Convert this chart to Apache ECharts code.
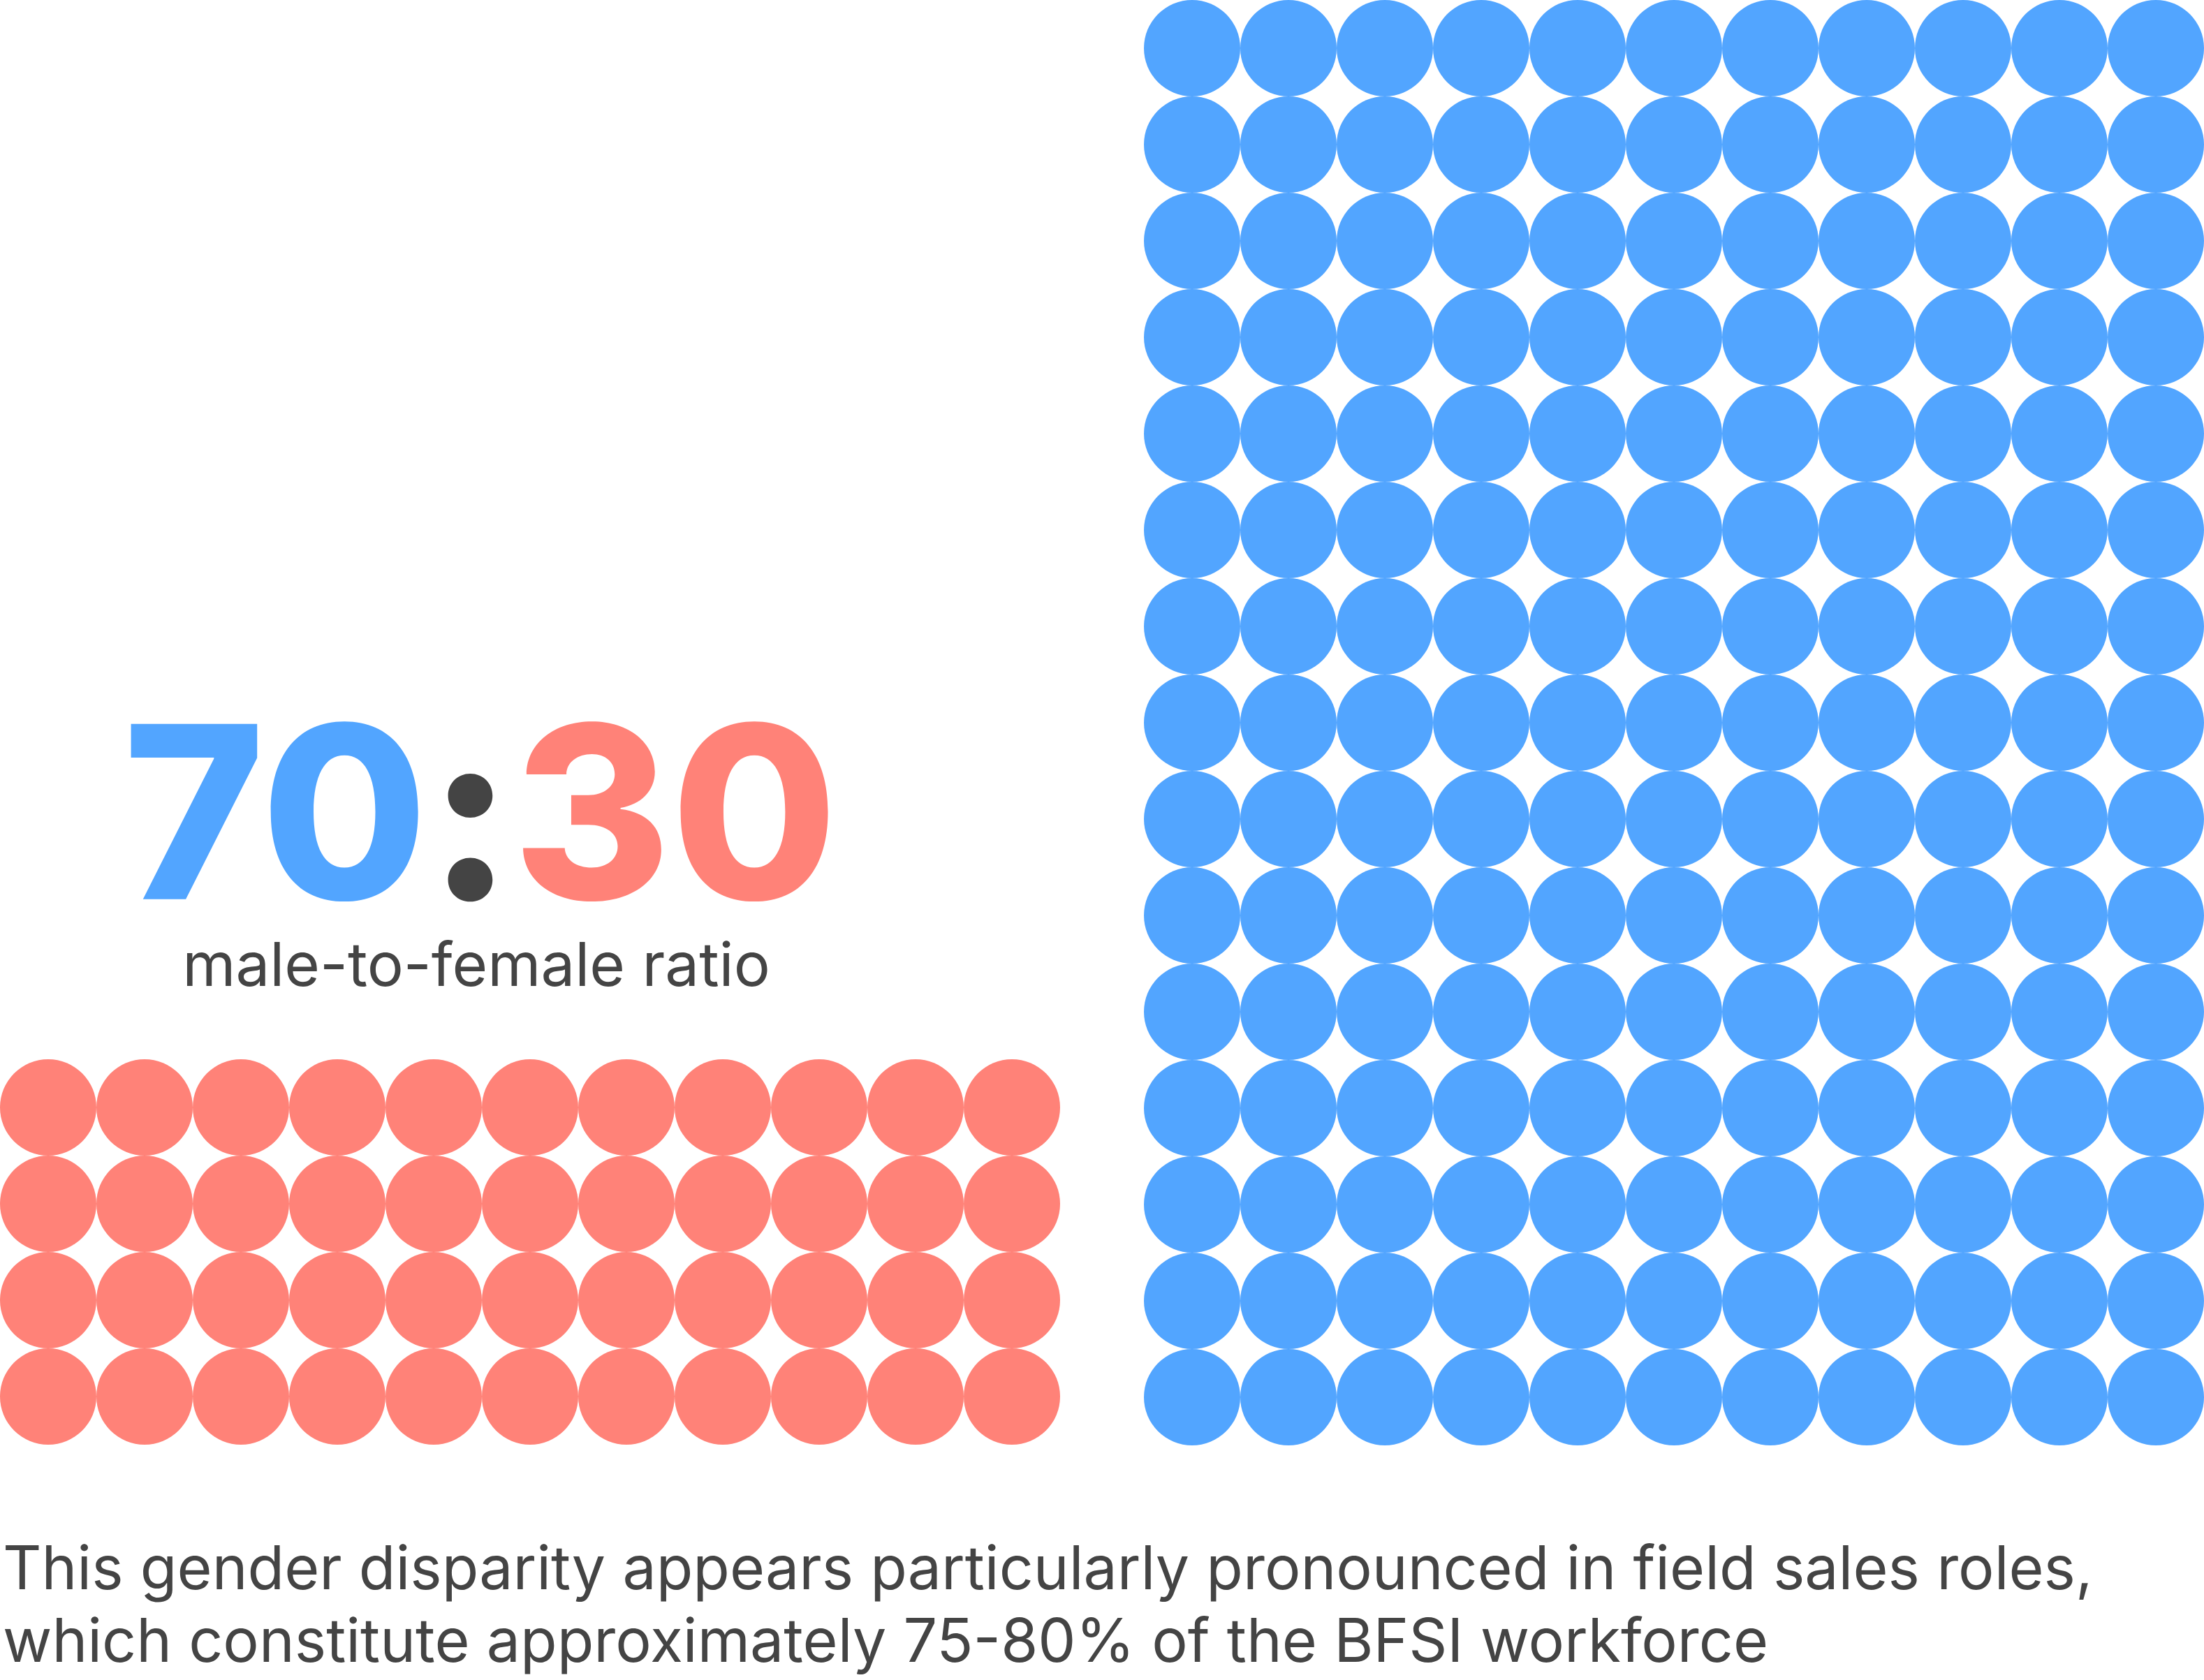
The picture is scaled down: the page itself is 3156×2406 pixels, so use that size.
<!DOCTYPE html>
<html>
<head>
<meta charset="utf-8">
<script src="https://cdn.jsdelivr.net/npm/echarts@6/dist/echarts.min.js"></script>
<style>
  html, body { margin: 0; padding: 0; background: #ffffff; }
  #dataView { width: 3156px; height: 2406px; }
</style>
</head>
<body>
<div id="dataView"></div>
<script>
// waffle data: one dot per cell
var columns = ['1', '2', '3', '4', '5', '6', '7', '8', '9', '10', '11'];
var maleRows = ['1', '2', '3', '4', '5', '6', '7', '8', '9', '10', '11', '12', '13', '14', '15'];
var femaleRows = ['1', '2', '3', '4'];
var ratio = [70, 30];
var subtitle = 'male-to-female ratio';
var caption = ['This gender disparity appears particularly pronounced in field sales roles,',
  'which constitute approximately 75-80% of the BFSI workforce'];

var BLUE = '#52a5ff';
var RED = '#ff8278';
var DARK = '#444444';
var FONT = 'Inter, "Noto Sans", sans-serif';

function cells(rows) {
  var list = [];
  rows.forEach(function (r) {
    columns.forEach(function (c) {
      list.push([c, r]);
    });
  });
  return list;
}

function hiddenAxis(data, idx, inverse) {
  return {
    type: 'category', data: data, gridIndex: idx, inverse: !!inverse,
    boundaryGap: true,
    axisLine: { show: false }, axisTick: { show: false },
    axisLabel: { show: false }, splitLine: { show: false }
  };
}

var chart = echarts.init(document.getElementById('dataView'), null, { renderer: 'canvas' });

var option = {
  backgroundColor: '#ffffff',
  animation: false,
  grid: [
    { left: 0, top: 1517, width: 1518, height: 552 },
    { left: 1638, top: 0, width: 1518, height: 2070 }
  ],
  xAxis: [
    hiddenAxis(columns, 0),
    hiddenAxis(columns, 1)
  ],
  yAxis: [
    hiddenAxis(femaleRows, 0, true),
    hiddenAxis(maleRows, 1, true)
  ],
  series: [
    {
      name: 'female', type: 'scatter', xAxisIndex: 0, yAxisIndex: 0,
      symbol: 'circle', symbolSize: 138,
      itemStyle: { color: RED, opacity: 1 },
      data: cells(femaleRows)
    },
    {
      name: 'male', type: 'scatter', xAxisIndex: 1, yAxisIndex: 1,
      symbol: 'circle', symbolSize: 138,
      itemStyle: { color: BLUE, opacity: 1 },
      data: cells(maleRows)
    }
  ],
  graphic: [
    {
      type: 'text', x: 688, y: 1184,
      style: {
        text: '{a|' + ratio[0] + '}{b|:}{c|' + ratio[1] + '}',
        align: 'center', verticalAlign: 'middle',
        rich: {
          a: { fill: BLUE, fontSize: 345, fontWeight: 800, fontFamily: FONT },
          b: { fill: DARK, fontSize: 345, fontWeight: 800, fontFamily: FONT },
          c: { fill: RED, fontSize: 345, fontWeight: 800, fontFamily: FONT }
        }
      }
    },
    {
      type: 'text', x: 682, y: 1386,
      style: {
        text: subtitle, fill: DARK, fontSize: 87, fontFamily: FONT,
        align: 'center', verticalAlign: 'middle'
      }
    },
    {
      type: 'text', x: 4, y: 2198,
      style: {
        text: caption.join('\n'), fill: DARK, fontSize: 86, lineHeight: 104,
        fontFamily: FONT, align: 'left', verticalAlign: 'top'
      }
    }
  ]
};

chart.setOption(option);
</script>
</body>
</html>
